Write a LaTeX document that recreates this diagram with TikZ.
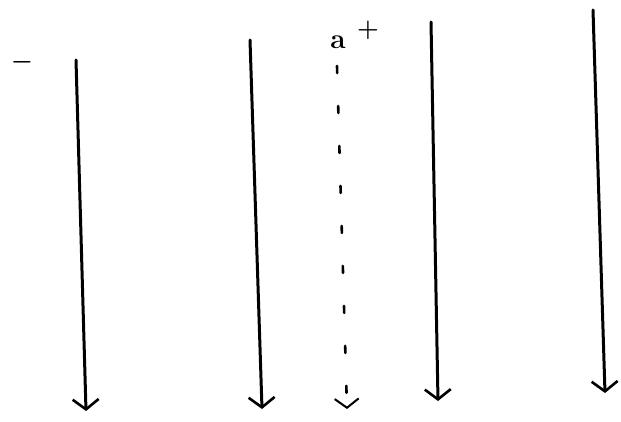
\documentclass[tikz,border=0pt]{standalone}
\usepackage{amsmath,amssymb}
\usetikzlibrary{arrows.meta}

\begin{document}
\begin{tikzpicture}[
    x=1pt, y=-1pt,
    strand/.style={-{Straight Barb[length=10pt, width=26pt, line width=2.6pt]}, line width=3pt, line cap=round, black},
    ghost/.style={-{Straight Barb[length=9pt, width=24pt, line width=2pt]}, line width=2.6pt, line cap=round, black, dash pattern=on 7pt off 33pt},
    sign/.style={font=\fontsize{30}{30}\selectfont\bfseries, inner sep=0pt}
]
  \useasboundingbox (0,0) rectangle (621,422);

  % ends of the strands
  \coordinate (s1) at (76,60);   \coordinate (e1) at (86,411);
  \coordinate (s2) at (250,40);  \coordinate (e2) at (262,409);
  \coordinate (s3) at (337,66);  \coordinate (e3) at (347,409);
  \coordinate (s4) at (431,22);  \coordinate (e4) at (438,401);
  \coordinate (s5) at (593,10);  \coordinate (e5) at (605,393);

  % labels
  \node[sign] (minus) at (22,62) {$\boldsymbol{-}$};
  \node[sign, font=\fontsize{28}{28}\selectfont\bfseries] (a) at (338,42) {a};
  \node[sign] (plus) at (368,30) {$\boldsymbol{+}$};

  % strands
  \draw[strand] (s1) -- (e1);
  \draw[strand] (s2) -- (e2);
  \draw[ghost] (s3) -- (e3);
  \draw[strand] (s4) -- (e4);
  \draw[strand] (s5) -- (e5);
\end{tikzpicture}
\end{document}
